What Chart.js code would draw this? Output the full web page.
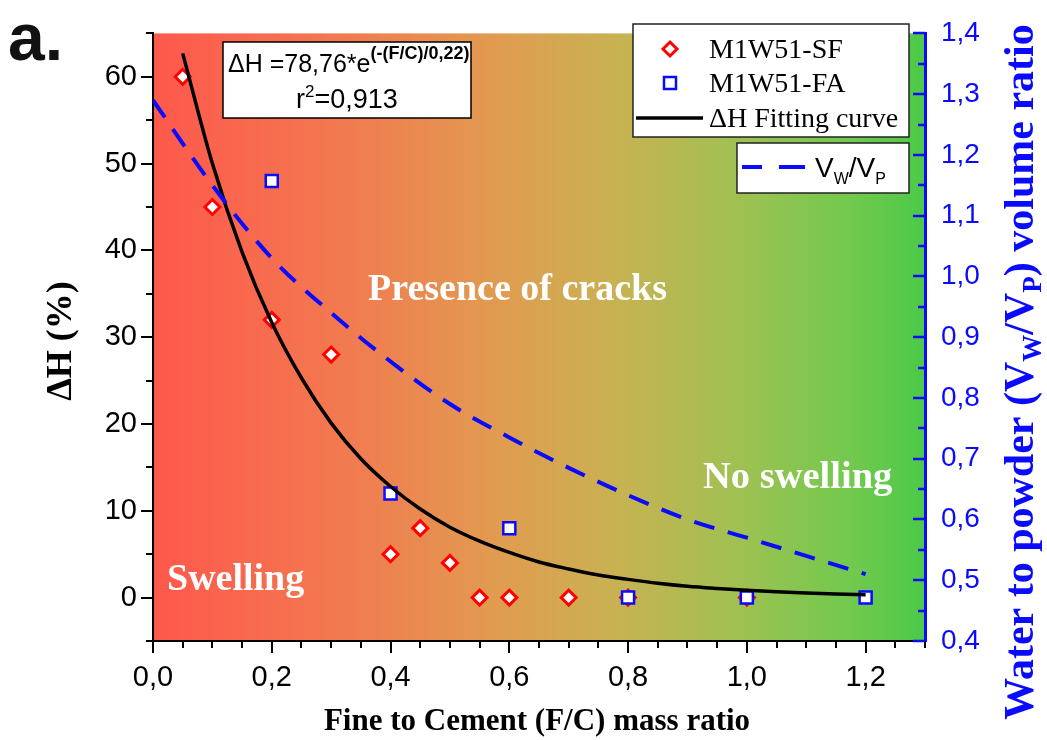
<!DOCTYPE html>
<html><head><meta charset="utf-8">
<script src="https://cdn.jsdelivr.net/npm/chart.js@4.4.1/dist/chart.umd.min.js"></script>
<style>html,body{margin:0;padding:0;background:#fff;}#wrap{width:1047px;height:740px;position:relative;}</style>
</head><body><div id="wrap"><canvas id="c" width="1047" height="740"></canvas></div>
<script>
// ---- data ----
const sfX = [0.05, 0.10, 0.20, 0.30, 0.40, 0.45, 0.50, 0.55, 0.60, 0.70, 0.80, 1.00];
const sfY = [60, 45, 32, 28, 5, 8, 4, 0, 0, 0, 0, 0];
const faX = [0.20, 0.40, 0.60, 0.80, 1.00, 1.20];
const faY = [48, 12, 8, 0, 0, 0];
const fitX = [0.05,0.10,0.15,0.20,0.25,0.30,0.35,0.40,0.45,0.50,0.55,0.60,0.65,0.70,0.75,0.80,0.85,0.90,0.95,1.00,1.05,1.10,1.15,1.20];
const fitY = [62.7,50.0,39.8,31.7,25.3,20.1,16.0,12.8,10.2,8.1,6.5,5.2,4.1,3.3,2.6,2.1,1.65,1.3,1.05,0.84,0.67,0.53,0.42,0.34];
const ratioX = [0.0,0.1,0.2,0.3,0.4,0.5,0.6,0.7,0.8,0.9,1.0,1.1,1.2];
const ratioY = [1.29,1.15,1.03,0.94,0.86,0.79,0.735,0.685,0.64,0.60,0.57,0.54,0.51];
const xTickValues = [0.0,0.2,0.4,0.6,0.8,1.0,1.2];
const yTickValues = [0,10,20,30,40,50,60];
const y2TickValues = [0.4,0.5,0.6,0.7,0.8,0.9,1.0,1.1,1.2,1.3,1.4];
const legendLabels = ['M1W51-SF','M1W51-FA','\u0394H Fitting curve'];

const SANS = "'Liberation Sans', Arial, sans-serif";
const SERIF = "'Liberation Serif', 'Times New Roman', serif";
const BLUE = '#0a0aff';
const comma = v => v.toFixed(1).replace('.', ',');

const pts = (xs, ys) => xs.map((x, i) => ({x, y: ys[i]}));

const bgPlugin = {
  id: 'bg',
  beforeDraw(chart) {
    const {ctx, chartArea: a} = chart;
    const g = ctx.createLinearGradient(a.left, 0, a.right, 0);
    g.addColorStop(0.00, 'rgb(254,88,76)');
    g.addColorStop(0.25, 'rgb(242,122,80)');
    g.addColorStop(0.45, 'rgb(224,156,80)');
    g.addColorStop(0.60, 'rgb(200,178,82)');
    g.addColorStop(0.75, 'rgb(162,192,82)');
    g.addColorStop(0.90, 'rgb(115,201,78)');
    g.addColorStop(1.00, 'rgb(76,201,72)');
    ctx.save();
    ctx.fillStyle = g;
    ctx.fillRect(a.left, a.top, a.right - a.left, a.bottom - a.top);
    ctx.restore();
  }
};

function drawSup(ctx, parts, x, y) {
  let cx = x;
  for (const [t, f, dy] of parts) {
    ctx.font = f;
    ctx.fillText(t, cx, y + dy);
    cx += ctx.measureText(t).width;
  }
  return cx;
}
function measureParts(ctx, parts) {
  let w = 0;
  for (const [t, f] of parts) { ctx.font = f; w += ctx.measureText(t).width; }
  return w;
}

const decoPlugin = {
  id: 'deco',
  afterDraw(chart) {
    const {ctx, chartArea: a} = chart;
    const sx = chart.scales.x, sy = chart.scales.y, sy2 = chart.scales.y2;
    ctx.save();
    // ticks x
    ctx.strokeStyle = '#000'; ctx.lineWidth = 2;
    for (let i = 0; i <= 26; i++) {
      const v = i * 0.05;
      const px = Math.round(sx.getPixelForValue(v));
      const major = i % 4 === 0;
      ctx.beginPath(); ctx.moveTo(px, a.bottom); ctx.lineTo(px, a.bottom + (major ? 12 : 7)); ctx.stroke();
    }
    // ticks y (left)
    for (let i = -1; i <= 13; i++) {
      const v = i * 5;
      const py = Math.round(sy.getPixelForValue(v));
      const major = i % 2 === 0;
      ctx.beginPath(); ctx.moveTo(a.left, py); ctx.lineTo(a.left - (major ? 12 : 7), py); ctx.stroke();
    }
    // ticks y2 (right, inward)
    ctx.strokeStyle = BLUE; ctx.lineWidth = 2.5;
    for (let i = 0; i <= 20; i++) {
      const v = 0.4 + i * 0.05;
      const py = Math.round(sy2.getPixelForValue(v));
      const major = i % 2 === 0;
      ctx.beginPath(); ctx.moveTo(a.right, py); ctx.lineTo(a.right - (major ? 12 : 7), py); ctx.stroke();
    }

    // region texts
    ctx.fillStyle = '#fff';
    ctx.textAlign = 'left'; ctx.textBaseline = 'alphabetic';
    ctx.font = 'bold 38px ' + SERIF;
    ctx.fillText('Presence of cracks', 368, 300);
    ctx.font = 'bold 38.5px ' + SERIF;
    ctx.fillText('No swelling', 703, 488);
    ctx.font = 'bold 38px ' + SERIF;
    ctx.fillText('Swelling', 167, 590);

    // equation box
    ctx.fillStyle = '#fff'; ctx.strokeStyle = '#000'; ctx.lineWidth = 1.5;
    ctx.fillRect(223, 42, 248, 76); ctx.strokeRect(223, 42, 248, 76);
    ctx.fillStyle = '#000';
    drawSup(ctx, [['\u0394H =78,76*e', '25px ' + SANS, 0], ['(-(F/C)/0,22)', 'bold 18px ' + SANS, -13]], 228, 72);
    const p2 = [['r', '27px ' + SANS, 0], ['2', '17px ' + SANS, -11], ['=0,913', '27px ' + SANS, 0]];
    const w2 = measureParts(ctx, p2);
    drawSup(ctx, p2, 347 - w2 / 2, 108);

    // legend box 1
    ctx.fillStyle = '#fff'; ctx.strokeStyle = '#222'; ctx.lineWidth = 1.5;
    ctx.fillRect(633, 24, 276, 113); ctx.strokeRect(633, 24, 276, 113);
    ctx.strokeStyle = '#ff0000'; ctx.lineWidth = 3;
    ctx.beginPath(); ctx.moveTo(670, 42); ctx.lineTo(677, 49); ctx.lineTo(670, 56); ctx.lineTo(663, 49); ctx.closePath();
    ctx.fill(); ctx.stroke();
    ctx.strokeStyle = BLUE; ctx.lineWidth = 2.5;
    ctx.fillRect(664, 77, 12, 12); ctx.strokeRect(664, 77, 12, 12);
    ctx.strokeStyle = '#000'; ctx.lineWidth = 3.5;
    ctx.beginPath(); ctx.moveTo(636, 118); ctx.lineTo(703, 118); ctx.stroke();
    ctx.fillStyle = '#000'; ctx.font = '28px ' + SERIF;
    ctx.fillText(legendLabels[0], 709, 58);
    ctx.fillText(legendLabels[1], 709, 92);
    ctx.fillText(legendLabels[2], 709, 127);

    // legend box 2
    ctx.fillStyle = '#fff'; ctx.strokeStyle = '#222'; ctx.lineWidth = 1.5;
    ctx.fillRect(737, 143, 172, 50); ctx.strokeRect(737, 143, 172, 50);
    ctx.strokeStyle = BLUE; ctx.lineWidth = 4;
    ctx.beginPath(); ctx.moveTo(742, 167); ctx.lineTo(762, 167); ctx.moveTo(779, 167); ctx.lineTo(805, 167); ctx.stroke();
    ctx.fillStyle = '#000';
    drawSup(ctx, [['V', '28px ' + SANS, 0], ['W', '16px ' + SANS, 7], ['/V', '28px ' + SANS, 0], ['P', '16px ' + SANS, 7]], 815, 177);

    // axis titles
    ctx.fillStyle = '#000';
    ctx.font = 'bold 31px ' + SERIF;
    ctx.textAlign = 'center';
    ctx.fillText('Fine to Cement (F/C) mass ratio', 537, 730);

    ctx.save();
    ctx.translate(62, 341); ctx.rotate(-Math.PI / 2);
    ctx.font = 'bold 36px ' + SERIF; ctx.textBaseline = 'middle';
    ctx.fillText('\u0394H (%)', 0, 0);
    ctx.restore();

    ctx.save();
    ctx.textAlign = 'left';
    ctx.fillStyle = BLUE;
    const big = 'bold 42px ' + SERIF, sm = 'bold 27px ' + SERIF;
    const rp = [['Water to powder (V', big, 0], ['W', sm, 8], ['/V', big, 0], ['P', sm, 8], [') volume ratio', big, 0]];
    const rw = measureParts(ctx, rp);
    ctx.translate(1033, 372); ctx.rotate(-Math.PI / 2);
    drawSup(ctx, rp, -rw / 2, 0);
    ctx.restore();

    // panel label
    ctx.textAlign = 'left'; ctx.fillStyle = '#111';
    ctx.font = 'bold 66px ' + SANS;
    ctx.fillText('a.', 8, 60);
    ctx.restore();
  }
};

new Chart(document.getElementById('c'), {
  type: 'scatter',
  data: {
    datasets: [
      { label: 'M1W51-SF', data: pts(sfX, sfY), pointStyle: 'rectRot', pointRadius: 7.5, borderColor: '#ff0000', backgroundColor: '#ffffff', borderWidth: 3, order: 3 },
      { label: 'M1W51-FA', data: pts(faX, faY), pointStyle: 'rect', pointRadius: 8.5, borderColor: BLUE, backgroundColor: '#ffffff', borderWidth: 2.5, order: 2 },
      { label: '\u0394H Fitting curve', type: 'line', data: pts(fitX, fitY), borderColor: '#000', borderWidth: 3.5, pointRadius: 0, cubicInterpolationMode: 'monotone', fill: false, order: 1 },
      { label: 'Vw/Vp', type: 'line', yAxisID: 'y2', data: pts(ratioX, ratioY), borderColor: BLUE, borderWidth: 4, borderDash: [21, 14], pointRadius: 0, cubicInterpolationMode: 'monotone', fill: false, order: 0 }
    ]
  },
  options: {
    responsive: false, animation: false, devicePixelRatio: 1,
    layout: { padding: { top: 21, left: 0, right: 0, bottom: 0 } },
    plugins: { legend: { display: false }, tooltip: { enabled: false } },
    scales: {
      x: {
        type: 'linear', min: 0, max: 1.3,
        afterFit: s => { s.height = 99; },
        afterBuildTicks: s => { s.ticks = xTickValues.map(v => ({value: v})); },
        grid: { display: true, drawOnChartArea: false, drawTicks: false },
        border: { display: true, color: '#000', width: 2 },
        ticks: { callback: v => comma(v), color: '#000', font: { family: SANS, size: 29 }, padding: 20, maxRotation: 0, autoSkip: false }
      },
      y: {
        type: 'linear', position: 'left', min: -5, max: 65,
        afterFit: s => { s.width = 153; },
        afterBuildTicks: s => { s.ticks = yTickValues.map(v => ({value: v})); },
        grid: { display: true, drawOnChartArea: false, drawTicks: false },
        border: { display: true, color: '#000', width: 2 },
        ticks: { color: '#000', font: { family: SANS, size: 29 }, padding: 16, autoSkip: false }
      },
      y2: {
        type: 'linear', position: 'right', min: 0.4, max: 1.4,
        afterFit: s => { s.width = 122; },
        afterBuildTicks: s => { s.ticks = y2TickValues.map(v => ({value: v})); },
        grid: { display: true, drawOnChartArea: false, drawTicks: false },
        border: { display: true, color: BLUE, width: 3 },
        ticks: { callback: v => comma(v), color: BLUE, font: { family: SANS, size: 28 }, padding: 16, autoSkip: false }
      }
    }
  },
  plugins: [bgPlugin, decoPlugin]
});
</script></body></html>
